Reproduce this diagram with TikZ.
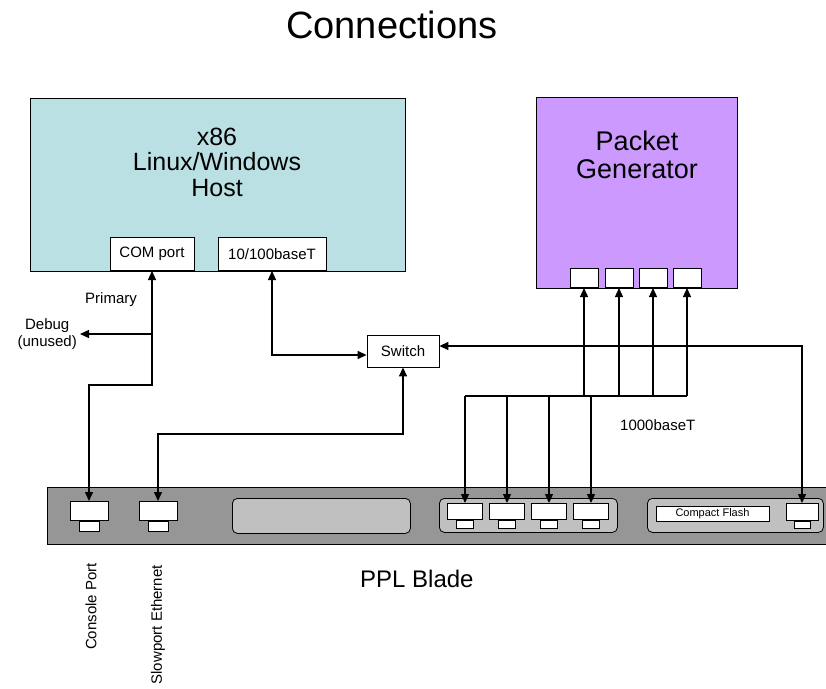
\documentclass[tikz,border=0pt]{standalone}
\usepackage{fontspec}
\setmainfont{Liberation Sans}
\usetikzlibrary{arrows.meta}

\definecolor{hostcyan}{RGB}{187,224,227}
\definecolor{pglilac}{RGB}{204,153,255}
\definecolor{bladegray}{RGB}{150,150,150}
\definecolor{slotgray}{RGB}{192,192,192}

\tikzset{
  box/.style={draw, line width=0.8pt, inner sep=0pt},
  txt/.style={font=\fontsize{15}{17}\selectfont, inner sep=0pt},
  bigtxt/.style={font=\fontsize{25}{25.5}\selectfont, inner sep=0pt, align=center},
  conn/.style={line width=1.3pt, -{Triangle[length=9pt,width=8pt]}},
  biconn/.style={line width=1.3pt, {Triangle[length=9pt,width=8pt]}-{Triangle[length=9pt,width=8pt]}},
  wire/.style={line width=1.3pt}
}

\begin{document}
\begin{tikzpicture}[x=1pt,y=-1pt]
\useasboundingbox (0,0) rectangle (826,688);

\node[txt, font=\fontsize{38}{40}\selectfont, anchor=base west] (title) at (286,38) {Connections};

% host pc
\node[box, fill=hostcyan, anchor=north west, minimum width=375pt, minimum height=173pt] (host) at (30,98) {};
\node[bigtxt] (hostlbl) at (217,162) {x86\\Linux/Windows\\Host};
\node[box, txt, fill=white, anchor=south, minimum width=84pt, minimum height=33pt] (comport) at (152,271) {COM port};
\node[box, txt, fill=white, anchor=south, minimum width=108pt, minimum height=33pt] (ethport) at (272,271) {10/100baseT};

% packet generator
\node[box, fill=pglilac, anchor=north west, minimum width=201pt, minimum height=191pt] (pktgen) at (536,97) {};
\node[bigtxt, font=\fontsize{27}{28}\selectfont] (pktlbl) at (637,155) {Packet\\Generator};
\foreach \i/\x in {1/584,2/619,3/653,4/687}
  \node[box, fill=white, anchor=south, minimum width=28pt, minimum height=19pt] (pgport\i) at (\x,288) {};

\node[box, txt, fill=white, minimum width=72pt, minimum height=32pt] (switch) at (403,351) {Switch};

% blade
\node[box, fill=bladegray, anchor=north west, minimum width=790pt, minimum height=57pt] (blade) at (47,487) {};
\node[box, fill=slotgray, rounded corners=5pt, anchor=north west, minimum width=178pt, minimum height=35pt] (slot) at (232,498) {};
\node[box, fill=slotgray, rounded corners=5pt, anchor=north west, minimum width=178pt, minimum height=34pt] (ggroup) at (439,498) {};
\node[box, fill=slotgray, rounded corners=5pt, anchor=north west, minimum width=176pt, minimum height=34pt] (cfgroup) at (647,498) {};
\node[box, txt, font=\fontsize{11}{13}\selectfont, fill=white, minimum width=113pt, minimum height=15pt] (cflash) at (712.5,513.5) {Compact Flash};

\node[box, fill=white, anchor=north, minimum width=38pt, minimum height=19pt] (console) at (89,501) {};
\node[box, fill=white, anchor=north, minimum width=20pt, minimum height=10pt] (consoleb) at (console.south) {};
\node[box, fill=white, anchor=north, minimum width=38pt, minimum height=19pt] (slowport) at (158,501) {};
\node[box, fill=white, anchor=north, minimum width=20pt, minimum height=10pt] (slowportb) at (slowport.south) {};
\foreach \i/\x in {1/465,2/507,3/549,4/591}{
  \node[box, fill=white, anchor=north, minimum width=35pt, minimum height=16pt] (gport\i) at (\x,503) {};
  \node[box, fill=white, anchor=north, minimum width=17pt, minimum height=8pt] (gportb\i) at (gport\i.south) {};
}
\node[box, fill=white, anchor=north, minimum width=32pt, minimum height=17pt] (cfport) at (802,503) {};
\node[box, fill=white, anchor=north, minimum width=16pt, minimum height=7pt] (cfportb) at (cfport.south) {};

% labels
\node[txt, rotate=90, anchor=east] (conlbl) at (91,563) {Console Port};
\node[txt, rotate=90, anchor=east] (slowlbl) at (158,565) {Slowport Ethernet};
\node[txt, font=\fontsize{24}{26}\selectfont, anchor=base west] (bladelbl) at (360,587) {PPL Blade};
\node[txt, anchor=base west] (gbitlbl) at (620,430) {1000baseT};
\node[txt, anchor=base west] (primlbl) at (85,303) {Primary};
\node[txt, align=center, anchor=east] (debug) at (77,334) {Debug\\(unused)};

% connections
\coordinate (conbend) at (0,385);
\draw[biconn] (comport.south) -- (comport.south |- conbend) -| (console.north);
\draw[conn] (comport.south |- debug.east) -- ([xshift=3pt]debug.east);
\draw[biconn] (ethport.south) |- ([yshift=-4pt]switch.west);
\coordinate (slowbend) at (0,434);
\draw[biconn] (switch.south) -- (switch.south |- slowbend) -| (slowport.north);
\draw[biconn] ([yshift=5pt]switch.east) -| (cfport.north);

\coordinate (bus) at (0,396);
\draw[wire] (bus -| gport1) -- (bus -| pgport4);
\foreach \i in {1,...,4}{
  \draw[conn] (bus -| gport\i) -- (gport\i.north);
  \draw[conn] (bus -| pgport\i) -- (pgport\i.south);
}

\end{tikzpicture}
\end{document}
